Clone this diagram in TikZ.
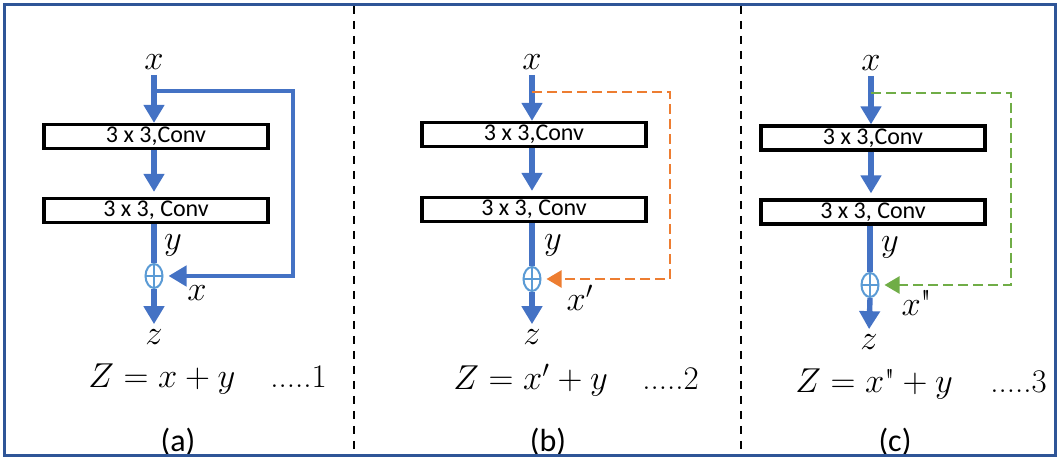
\documentclass[tikz,border=0pt]{standalone}
\usepackage{fontspec}
\setsansfont{Carlito}
\newfontfamily\quotefont{Latin Modern Roman}[Ligatures=TeXOff]
\usepackage{tikz}
\usetikzlibrary{arrows.meta, shapes.geometric}
\definecolor{flowblue}{RGB}{68,114,196}
\definecolor{sumblue}{RGB}{91,155,213}
\definecolor{skiporange}{RGB}{237,125,49}
\definecolor{skipgreen}{RGB}{112,173,71}
\definecolor{frameblue}{RGB}{47,85,151}
\newcommand{\dquote}{{\quotefont"}}

\begin{document}
\begin{tikzpicture}[x=0.5pt, y=-0.5pt, >=Triangle]
  \tikzstyle{conv} = [rectangle, draw=black, line width=1.6pt, fill=white, minimum width=112pt, minimum height=12pt, inner sep=0pt, font=\sffamily\fontsize{12}{12}\selectfont]
  \tikzstyle{var} = [inner sep=0.5pt, font=\fontsize{18}{18}\selectfont]
  \tikzstyle{adder} = [ellipse, draw=sumblue, line width=1pt, fill=white, minimum width=8.5pt, minimum height=12pt, inner sep=0pt, path picture={\draw[sumblue, line width=1pt] (path picture bounding box.north) -- (path picture bounding box.south) (path picture bounding box.west) -- (path picture bounding box.east);}]
  \tikzstyle{flow} = [flowblue, line width=2.7pt, -{Triangle[width=10pt, length=9pt]}]
  \tikzstyle{trunk} = [flowblue, line width=2.7pt]
  \tikzstyle{skip} = [flowblue, line width=2.2pt, -{Triangle[width=10pt, length=9pt]}]
  \tikzstyle{dskip} = [line width=1.2pt, dash pattern=on 5pt off 2.5pt, -{Triangle[width=8.5pt, length=7.5pt]}]
  \tikzstyle{eq} = [inner sep=0pt, anchor=base west, font=\fontsize{16.5}{16.5}\selectfont]
  \tikzstyle{caption} = [inner sep=0pt, anchor=base, font=\sffamily\fontsize{16}{16}\selectfont]
  \tikzstyle{divider} = [line width=1.4pt, dash pattern=on 4pt off 3.5pt]

  \useasboundingbox (0,0) rectangle (1062,458);

  % panel (a)
  \node [var] (xa) at (154,62) {$x$};
  \node [conv] (conv1a) at (156,136.5) {3 x 3,Conv};
  \node [conv] (conv2a) at (156,210.5) {3 x 3, Conv};
  \node [adder] (suma) at (154,276) {};
  \node [var] (za) at (154,337) {$z$};
  \node [var] (ya) at (173,245) {$y$};
  \node [var] (xsa) at (197,293) {$x$};
  \coordinate (brancha) at (154,91);
  \draw [flow, shorten <=2pt] (xa.south) -- (xa.south |- conv1a.north);
  \draw [flow, shorten >=2.5pt] (xa |- conv1a.south) -- (xa |- conv2a.north);
  \draw [trunk] (suma.north |- conv2a.south) -- (suma.north);
  \draw [flow, shorten >=2pt] (suma.south) -- (za.north);
  \draw [skip, shorten >=2.5pt] (brancha) -- ++(139,0) |- (suma.east);
  \node [eq] (eqa) at (88,388) {$Z = x + y$};
  \node [eq] (taga) at (270,388) {.....1};
  \node [caption] (capa) at (178,452) {(a)};

  % panel (b)
  \node [var] (xb) at (532,62) {$x$};
  \node [conv] (conv1b) at (534,134.5) {3 x 3,Conv};
  \node [conv] (conv2b) at (534,209.5) {3 x 3, Conv};
  \node [adder] (sumb) at (532,279) {};
  \node [var] (zb) at (532,337) {$z$};
  \node [var] (yb) at (553,245) {$y$};
  \node [var] (xsb) at (580,298) {$x'$};
  \coordinate (branchb) at (532,92);
  \draw [flow, shorten <=2pt] (xb.south) -- (xb.south |- conv1b.north);
  \draw [flow, shorten >=2.5pt] (xb |- conv1b.south) -- (xb |- conv2b.north);
  \draw [trunk] (sumb.north |- conv2b.south) -- (sumb.north);
  \draw [flow, shorten >=2pt] (sumb.south) -- (zb.north);
  \draw [dskip, skiporange, shorten >=2.5pt] (branchb) -- ++(138,0) |- (sumb.east);
  \node [eq] (eqb) at (453,390) {$Z = x' + y$};
  \node [eq] (tagb) at (642,390) {.....2};
  \node [caption] (capb) at (548,452) {(b)};

  % panel (c)
  \node [var] (xc) at (871,63) {$x$};
  \node [conv] (conv1c) at (873,138) {3 x 3,Conv};
  \node [conv] (conv2c) at (873,212) {3 x 3, Conv};
  \node [adder] (sumc) at (870,285) {};
  \node [var] (zc) at (869,342) {$z$};
  \node [var] (yc) at (890,247) {$y$};
  \node [var] (xsc) at (917,303) {$x$\dquote};
  \coordinate (branchc) at (871,93);
  \draw [flow, shorten <=2pt] (xc.south) -- (xc.south |- conv1c.north);
  \draw [flow, shorten >=2.5pt] (xc |- conv1c.south) -- (xc |- conv2c.north);
  \draw [trunk] (sumc.north |- conv2c.south) -- (sumc.north);
  \draw [flow, shorten >=2pt] (sumc.south) -- (zc.north);
  \draw [dskip, skipgreen, shorten >=2.5pt] (branchc) -- ++(140,0) |- (sumc.east);
  \node [eq] (eqc) at (795,393) {$Z = x\mbox{\dquote} + y$};
  \node [eq] (tagc) at (990,393) {.....3};
  \node [caption] (capc) at (895,452) {(c)};

  % dividers and frame
  \draw [divider] (354,6) -- (354,455);
  \draw [divider] (741,6) -- (741,455);
  \draw [frameblue, line width=1.5pt] (4.5,4.5) rectangle (1055,456);
\end{tikzpicture}
\end{document}
